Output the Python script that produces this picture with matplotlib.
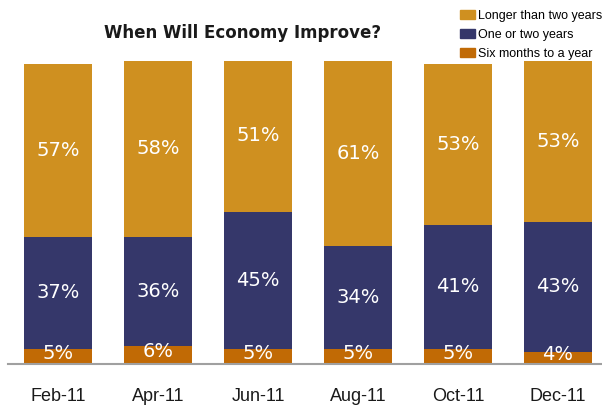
import numpy as np
import matplotlib
matplotlib.use("Agg")
import matplotlib.pyplot as plt
from matplotlib.patches import Patch

months = ["Feb-11", "Apr-11", "Jun-11", "Aug-11", "Oct-11", "Dec-11"]
six_months = [5, 6, 5, 5, 5, 4]
one_two_years = [37, 36, 45, 34, 41, 43]
longer_two_years = [57, 58, 51, 61, 53, 53]

series_names = ["Longer than two years", "One or two years", "Six months to a year"]
gold = "#CF9020"
navy = "#35376A"
rust = "#C16A05"

fig = plt.figure(figsize=(6.02, 4.11), dpi=100)
ax = fig.add_axes([8 / 602, 47 / 411, 600 / 602, 303 / 411])

x = np.arange(len(months))
w = 0.675
b1 = np.array(six_months)
b2 = b1 + np.array(one_two_years)

ax.bar(x, six_months, w, color=rust, zorder=2)
ax.bar(x, one_two_years, w, bottom=b1, color=navy, zorder=2)
ax.bar(x, longer_two_years, w, bottom=b2, color=gold, zorder=2)

lab = dict(color="white", fontsize=14, ha="center", va="center", family="DejaVu Sans", zorder=3)
for i in range(len(months)):
    ax.text(x[i], six_months[i] / 2 + 1.0, f"{six_months[i]}%", **lab)
    ax.text(x[i], b1[i] + one_two_years[i] / 2, f"{one_two_years[i]}%", **lab)
    ax.text(x[i], b2[i] + longer_two_years[i] / 2, f"{longer_two_years[i]}%", **lab)

ax.set_xlim(-0.5, len(months) - 0.5)
ax.set_ylim(0, 100)
ax.axhline(0, color="#A0A0A0", lw=1.5, zorder=4, clip_on=False)
for s in ax.spines.values():
    s.set_visible(False)
ax.set_yticks([])
ax.set_xticks(x)
ax.set_xticklabels(months, family="Liberation Sans", fontsize=13, color="#1a1a1a")
ax.tick_params(axis="x", length=0, pad=17.5)

fig.text(243 / 602, 1 - 33 / 411, "When Will Economy Improve?", ha="center", va="center",
         fontsize=12, fontweight="bold", family="DejaVu Sans", color="#1a1a1a")

handles = [Patch(color=gold), Patch(color=navy), Patch(color=rust)]
fig.legend(handles, series_names, loc="upper left", bbox_to_anchor=(454 / 602, 1 - 4 / 411),
           frameon=False, prop={"family": "Liberation Sans", "size": 9}, borderpad=0,
           handlelength=1.2, handleheight=0.75, handletextpad=0.25, labelspacing=0.55)

fig.savefig("out.png", dpi=100)
